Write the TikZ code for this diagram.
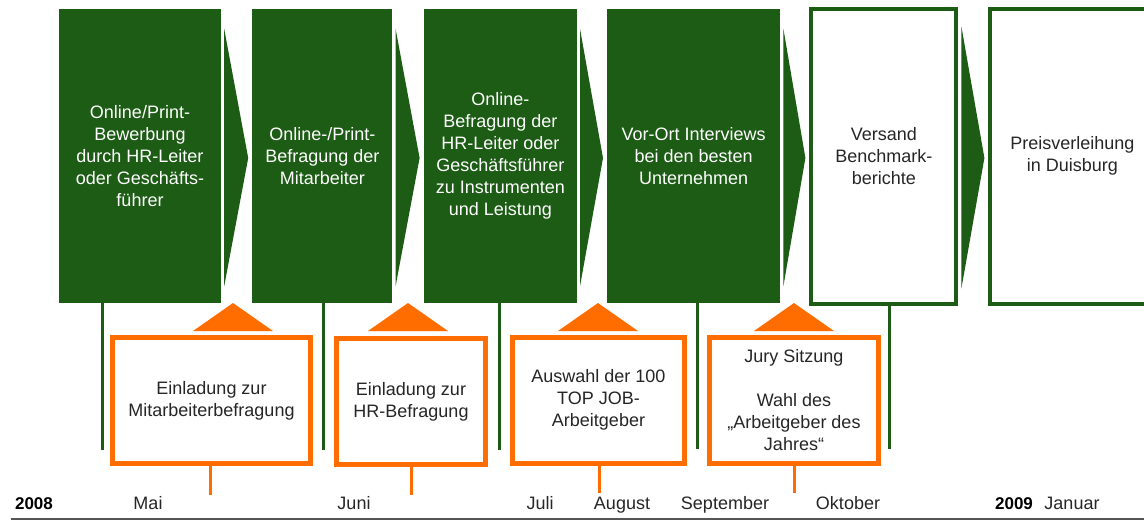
\documentclass[tikz,border=0pt]{standalone}
\usepackage{fontspec}
\setmainfont{Liberation Sans}
\usetikzlibrary{positioning,calc}

\definecolor{jobgreen}{RGB}{28,92,20}
\definecolor{joborange}{RGB}{255,108,0}
\definecolor{axisgray}{RGB}{85,85,85}

\begin{document}
\begin{tikzpicture} [x=1pt,y=-1pt,node distance=30pt,
    every node/.style={font=\fontsize{18}{22}\selectfont,align=center,inner sep=0pt},
    phase/.style={fill=jobgreen,text=white,minimum height=294pt},
    open phase/.style={draw=jobgreen,line width=4pt,text=black!85,minimum height=295pt},
    event/.style={draw=joborange,line width=5pt,fill=white,text=black!85,minimum height=126pt},
    stem/.style={draw=jobgreen,line width=3pt},
    tick/.style={draw=joborange,line width=3pt},
    month/.style={anchor=base,text=black!85},
    year/.style={month,font=\fontsize{17}{20}\selectfont\bfseries,text=black}]
  \useasboundingbox (0,0) rectangle (1144,520);
  \clip (0,0) rectangle (1144,520);

  \node[phase,minimum width=162pt] (1) at (140,156) {Online/Print-\\Bewerbung\\durch HR-Leiter\\oder Geschäfts-\\führer};
  \node[phase,minimum width=140pt] (2) [right=31pt of 1] {Online-/Print-\\Befragung der\\Mitarbeiter};
  \node[phase,minimum width=153pt] (3) [right=31pt of 2] {Online-\\Befragung der\\HR-Leiter oder\\Geschäftsführer\\zu Instrumenten\\und Leistung};
  \node[phase,minimum width=173pt] (4) [right=of 3] {Vor-Ort Interviews\\bei den besten\\Unternehmen};
  \node[open phase,minimum width=145pt] (5) [right=29pt of 4] {Versand\\Benchmark-\\berichte};
  \node[open phase,minimum width=164pt] (6) [right=of 5] {Preisverleihung\\in Duisburg};

  \foreach \a/\b in {1/2,2/3,3/4,4/5,5/6}
    \fill[jobgreen] ($(\a.north east)+(3,20)$) -- ($(\b.west)+(-4,2)$) -- ($(\a.south east)+(3,-17)$) -- cycle;

  \coordinate (s1) at (102,450);
  \coordinate (s2) at (323,450);
  \coordinate (s3) at (499,450);
  \coordinate (s4) at (697,449);
  \coordinate (s5) at (889,449);
  \foreach \n in {1,...,5}
    \draw[stem] (\n.south -| s\n) -- (s\n);

  \foreach \x in {233,408,598,794}
    \fill[joborange] (\x,303) -- ++(40,28) -- ++(-80,0) -- cycle;

  \node[event,minimum width=198pt] (e1) at (211.5,400.5) {Einladung zur\\Mitarbeiterbefragung};
  \node[event,minimum width=149pt] (e2) at (411,401.5) {Einladung zur\\HR-Befragung};
  \node[event,minimum width=172pt] (e3) at (598.5,400) {Auswahl der 100\\TOP JOB-\\Arbeitgeber};
  \node[event,minimum width=169pt] (e4) at (794,400) {Jury Sitzung\\[22pt]Wahl des\\„Arbeitgeber des\\Jahres“};

  \coordinate (t1) at (210,495);
  \coordinate (t2) at (411,495);
  \coordinate (t3) at (599,493);
  \coordinate (t4) at (794,493);
  \foreach \n in {1,...,4}
    \draw[tick] (e\n.south -| t\n) -- (t\n);

  \coordinate (a0) at (11,519);
  \coordinate (a1) at (1144,519);
  \draw[axisgray,line width=2pt] (a0) -- (a1);

  \node[year] (y2008) at (34,509) {2008};
  \node[month] (mai) at (148,509) {Mai};
  \node[month] (juni) at (354,509) {Juni};
  \node[month] (juli) at (540,509) {Juli};
  \node[month] (aug) at (622,509) {August};
  \node[month] (sep) at (725,509) {September};
  \node[month] (okt) at (848,509) {Oktober};
  \node[year] (y2009) at (1014,509) {2009};
  \node[month] (jan) at (1072,509) {Januar};
\end{tikzpicture}
\end{document}
